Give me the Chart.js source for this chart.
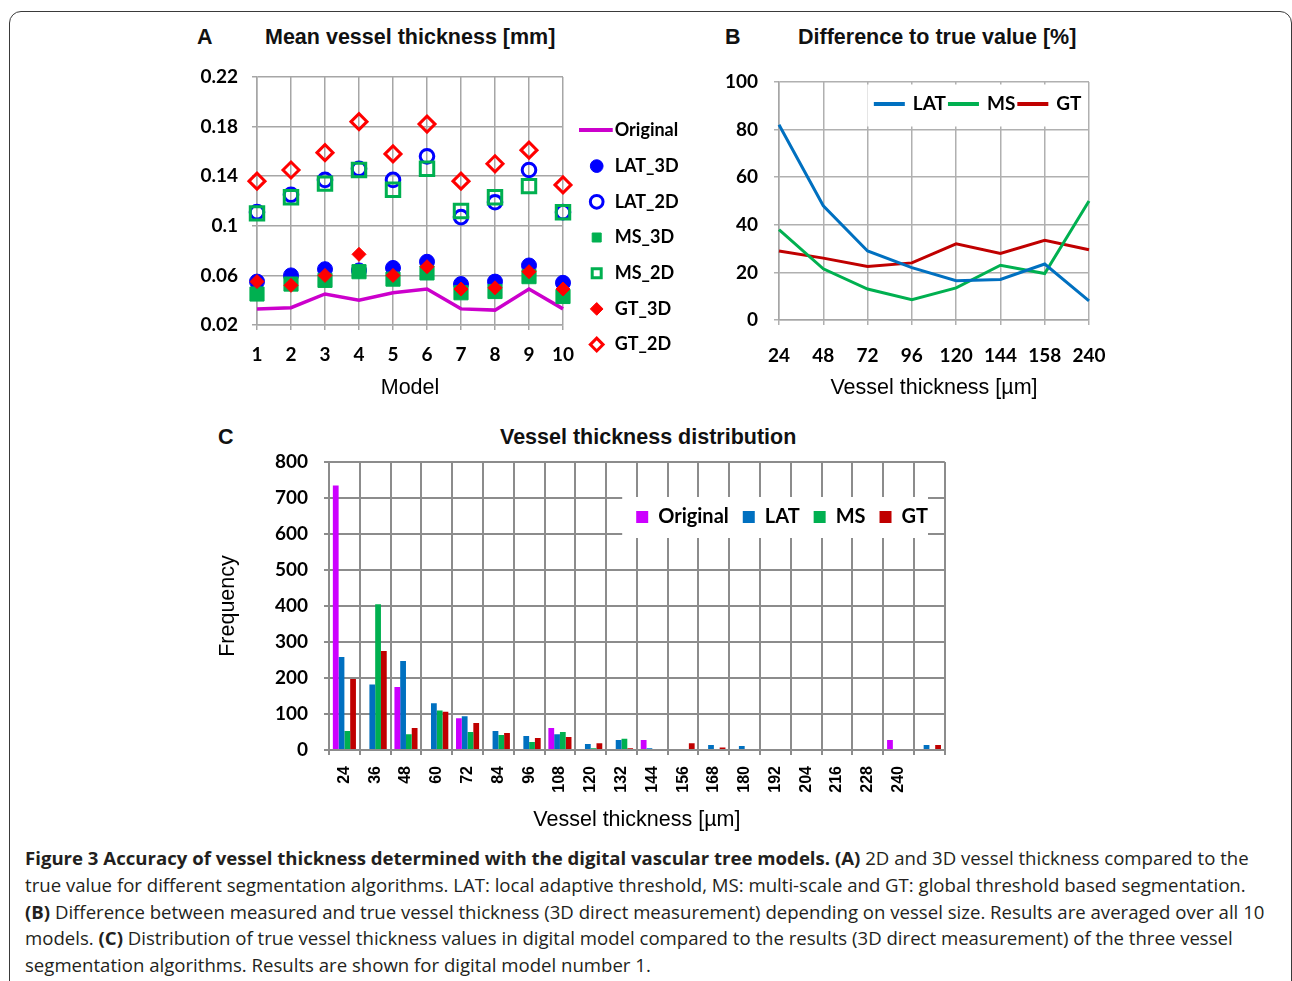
<!DOCTYPE html>
<html>
<head>
<meta charset="utf-8">
<script src="https://cdn.jsdelivr.net/npm/chart.js@4.4.1/dist/chart.umd.min.js"></script>
<style>
  body { margin: 0; width: 1292px; height: 981px; position: relative; overflow: hidden; background: #fff; font-family: 'Liberation Sans', Arial, sans-serif; }
  .frame { position: absolute; left: 9px; top: 11px; width: 1283px; height: 1000px; border: 1.5px solid #3a3a3a; border-radius: 12px; box-sizing: border-box; }
  .box { position: absolute; }
  .t { position: absolute; font: bold 21.5px 'Liberation Sans', Arial, sans-serif; line-height: 26px; color: #111; white-space: nowrap; }
  .cap { position: absolute; left: 25px; top: 845px; font: 18.6px 'Open Sans', sans-serif; line-height: 26.75px; color: #231f20; white-space: nowrap; }
  .cap b { font-weight: 700; }
</style>
</head>
<body>
<div class="frame"></div>

<div class="t" style="left:197px;top:24px">A</div>
<div class="t" style="left:265px;top:24px">Mean vessel thickness [mm]</div>
<div class="t" style="left:725px;top:24px">B</div>
<div class="t" style="left:798px;top:24px">Difference to true value [%]</div>
<div class="t" style="left:218px;top:424px">C</div>
<div class="t" style="left:500px;top:424px">Vessel thickness distribution</div>

<div class="box" style="left:190px;top:60px;width:510px;height:360px"><canvas id="chartA"></canvas></div>
<div class="box" style="left:710px;top:60px;width:420px;height:360px"><canvas id="chartB"></canvas></div>
<div class="box" style="left:200px;top:420px;width:760px;height:420px"><canvas id="chartC"></canvas></div>

<div class="cap">
  <div><b>Figure 3 Accuracy of vessel thickness determined with the digital vascular tree models.</b> <b>(A)</b> 2D and 3D vessel thickness compared to the</div>
  <div>true value for different segmentation algorithms. LAT: local adaptive threshold, MS: multi-scale and GT: global threshold based segmentation.</div>
  <div><b>(B)</b> Difference between measured and true vessel thickness (3D direct measurement) depending on vessel size. Results are averaged over all 10</div>
  <div>models. <b>(C)</b> Distribution of true vessel thickness values in digital model compared to the results (3D direct measurement) of the three vessel</div>
  <div>segmentation algorithms. Results are shown for digital model number 1.</div>
</div>

<script>
// --- A: mean vessel thickness per model [mm]
const modelLabels = ['1', '2', '3', '4', '5', '6', '7', '8', '9', '10'];
const yTicksA = ['0.02', '0.06', '0.1', '0.14', '0.18', '0.22'];
const originalA = [0.033, 0.034, 0.045, 0.040, 0.046, 0.049, 0.033, 0.032, 0.049, 0.033];
const lat3D = [0.055, 0.060, 0.065, 0.064, 0.066, 0.071, 0.053, 0.055, 0.068, 0.054];
const lat2D = [0.111, 0.125, 0.137, 0.146, 0.137, 0.156, 0.107, 0.119, 0.145, 0.111];
const ms3D = [0.045, 0.053, 0.056, 0.063, 0.057, 0.062, 0.046, 0.047, 0.059, 0.043];
const ms2D = [0.110, 0.123, 0.134, 0.145, 0.129, 0.146, 0.112, 0.123, 0.132, 0.111];
const gt3D = [0.055, 0.052, 0.060, 0.077, 0.060, 0.067, 0.049, 0.050, 0.063, 0.049];
const gt2D = [0.136, 0.145, 0.159, 0.184, 0.158, 0.182, 0.136, 0.150, 0.161, 0.133];

// --- B: difference to true value [%]
const diffLabels = ['24', '48', '72', '96', '120', '144', '158', '240'];
const latDiff = [82, 48, 29, 22, 16.5, 17, 23.5, 8];
const msDiff = [38, 21.5, 13, 8.5, 13.5, 23, 19.5, 50];
const gtDiff = [29, 26, 22.5, 24, 32, 28, 33.5, 29.5];

// --- C: vessel thickness distribution (model 1)
const binLabels = ['24', '36', '48', '60', '72', '84', '96', '108', '120', '132', '144', '156', '168', '180', '192', '204', '216', '228', '240', ''];
const origFreq = [735, 0, 175, 0, 88, 0, 0, 61, 0, 0, 28, 0, 0, 0, 0, 0, 0, 0, 28, 0];
const latFreq = [258, 182, 247, 130, 94, 53, 39, 44, 17, 28, 5, 3, 14, 11, 0, 0, 0, 0, 0, 14];
const msFreq = [53, 405, 44, 110, 50, 42, 22, 50, 5, 31, 0, 0, 0, 0, 0, 0, 0, 0, 0, 0];
const gtFreq = [197, 275, 61, 106, 75, 47, 33, 36, 19, 5, 0, 19, 7, 0, 0, 0, 0, 0, 0, 14];

Chart.defaults.animation = false;
Chart.defaults.color = '#000';
Chart.defaults.font.family = 'Lato';

const tickFont = { family: 'Lato', size: 19, weight: 'bold' };
const axisTitleFont = { family: 'Liberation Sans', size: 21.5 };

// fixed axis box sizes so the plot areas land where the original has them
const fixY = w => s => { s.width = w; s.paddingTop = 0; s.paddingBottom = 0; };
const fixX = h => s => { s.height = h; };

// moves the legend where the original has it, optionally with a white box behind
const legendShift = {
    id: 'legendShift',
    afterLayout(chart, args, o) {
        const lg = chart.legend;
        lg.left += o.dx || 0; lg.right += o.dx || 0;
        lg.top += o.dy || 0; lg.bottom += o.dy || 0;
        if (o.w) { lg.right = lg.left + o.w; lg.width = o.w; }
        if (o.h) { lg.bottom = lg.top + o.h; lg.height = o.h; }
    },
    beforeDatasetsDraw(chart, args, o) {
        if (!o.fill) return;
        const hb = chart.legend.legendHitBoxes;
        const x1 = Math.min(...hb.map(b => b.left)) - o.padL;
        const x2 = Math.max(...hb.map(b => b.left + b.width)) + o.padR;
        const y1 = Math.min(...hb.map(b => b.top)) - o.padT;
        const y2 = Math.max(...hb.map(b => b.top + b.height)) + o.padB;
        const ctx = chart.ctx;
        ctx.save();
        ctx.fillStyle = '#fff';
        ctx.fillRect(x1, y1, x2 - x1, y2 - y1);
        ctx.restore();
        chart.legend.draw();
    }
};

// long magenta stroke for the "Original" legend entry
const lineIcon = document.createElement('canvas');
lineIcon.width = 36; lineIcon.height = 4;
const li = lineIcon.getContext('2d');
li.fillStyle = '#CC00CC';
li.fillRect(0, 0, 34, 4);

const clear = 'rgba(0,0,0,0)';
const byIndex = (a, b) => a.datasetIndex - b.datasetIndex;

new Chart(document.getElementById('chartA'), {
    type: 'line',
    data: {
        labels: modelLabels,
        datasets: [
            { label: 'Original', data: originalA, borderColor: '#CC00CC', backgroundColor: '#CC00CC', borderWidth: 3.5, pointRadius: 0, pointStyle: lineIcon, order: 10, clip: false },
            { label: 'LAT_3D', data: lat3D, showLine: false, pointStyle: 'circle', pointRadius: 7.5, pointBackgroundColor: '#0000FF', pointBorderColor: '#0000FF', pointBorderWidth: 1, order: 3, clip: false },
            { label: 'LAT_2D', data: lat2D, showLine: false, pointStyle: 'circle', pointRadius: 6.8, pointBackgroundColor: clear, pointBorderColor: '#0000FF', pointBorderWidth: 3, order: 3, clip: false },
            { label: 'MS_3D', data: ms3D, showLine: false, pointStyle: 'rect', pointRadius: 10, pointBackgroundColor: '#00B050', pointBorderColor: '#00B050', pointBorderWidth: 1, order: 2, clip: false },
            { label: 'MS_2D', data: ms2D, showLine: false, pointStyle: 'rect', pointRadius: 9.5, pointBackgroundColor: clear, pointBorderColor: '#00B050', pointBorderWidth: 3, order: 2, clip: false },
            { label: 'GT_3D', data: gt3D, showLine: false, pointStyle: 'rectRot', pointRadius: 7, pointBackgroundColor: '#FF0000', pointBorderColor: '#FF0000', pointBorderWidth: 1, order: 1, clip: false },
            { label: 'GT_2D', data: gt2D, showLine: false, pointStyle: 'rectRot', pointRadius: 8, pointBackgroundColor: clear, pointBorderColor: '#FF0000', pointBorderWidth: 3, order: 1, clip: false }
        ]
    },
    options: {
        responsive: true,
        maintainAspectRatio: false,
        layout: { padding: { top: 17, right: 127, left: 0, bottom: 0 } },
        plugins: {
            tooltip: { enabled: false },
            legend: {
                position: 'right',
                maxWidth: 10,
                labels: { usePointStyle: true, boxHeight: 9, padding: 17.7, font: { family: 'Lato', size: 18, weight: 'bold' }, sort: byIndex }
            },
            legendShift: { dx: 7, dy: -11, w: 140 }
        },
        scales: {
            x: {
                grid: { color: '#a6a6a6', lineWidth: 1.5, tickLength: 5 },
                border: { color: '#a6a6a6', width: 1.5 },
                ticks: { font: tickFont, padding: 13, maxRotation: 0 },
                title: { display: true, text: 'Model', font: axisTitleFont, padding: { top: 0, bottom: 19 } },
                afterFit: fixX(95)
            },
            y: {
                min: 0.02, max: 0.22,
                grid: { color: '#a6a6a6', lineWidth: 1.5, tickLength: 5 },
                border: { color: '#a6a6a6', width: 1.5 },
                ticks: { stepSize: 0.04, font: tickFont, padding: 14, callback: (v, i) => yTicksA[i] },
                afterFit: fixY(67)
            }
        }
    },
    plugins: [legendShift]
});

new Chart(document.getElementById('chartB'), {
    type: 'line',
    data: {
        labels: diffLabels,
        datasets: [
            { label: 'LAT', data: latDiff, borderColor: '#0070C0', backgroundColor: '#0070C0', borderWidth: 3, pointRadius: 0, tension: 0, clip: false },
            { label: 'MS', data: msDiff, borderColor: '#00B050', backgroundColor: '#00B050', borderWidth: 3, pointRadius: 0, tension: 0, clip: false },
            { label: 'GT', data: gtDiff, borderColor: '#C00000', backgroundColor: '#C00000', borderWidth: 3, pointRadius: 0, tension: 0, clip: false }
        ]
    },
    options: {
        responsive: true,
        maintainAspectRatio: false,
        layout: { padding: { top: 21, right: 41, left: 0, bottom: 0 } },
        plugins: {
            tooltip: { enabled: false },
            legend: {
                position: 'top',
                align: 'end',
                maxHeight: 1,
                labels: { boxWidth: 28, boxHeight: 1, padding: 3.5, font: { family: 'Lato', size: 19, weight: 'bold' } }
            },
            legendShift: { dx: -4, dy: 10, h: 60, fill: true, padL: 8, padR: 2, padT: 10, padB: 13 }
        },
        scales: {
            x: {
                grid: { color: '#b0b0b0', lineWidth: 1.5, tickLength: 5 },
                border: { color: '#a6a6a6', width: 1.5 },
                ticks: { font: tickFont, padding: 19, maxRotation: 0 },
                title: { display: true, text: 'Vessel thickness [µm]', font: axisTitleFont, padding: { top: 0, bottom: 19 } },
                afterFit: fixX(100)
            },
            y: {
                min: 0, max: 100,
                grid: { color: '#b0b0b0', lineWidth: 1.5, tickLength: 5 },
                border: { color: '#a6a6a6', width: 1.5 },
                ticks: { stepSize: 20, font: tickFont, padding: 16 },
                afterFit: fixY(69)
            }
        }
    },
    plugins: [legendShift]
});

new Chart(document.getElementById('chartC'), {
    type: 'bar',
    data: {
        labels: binLabels,
        datasets: [
            { label: 'Original', data: origFreq, backgroundColor: '#CC00FF' },
            { label: 'LAT', data: latFreq, backgroundColor: '#0070C0' },
            { label: 'MS', data: msFreq, backgroundColor: '#00B050' },
            { label: 'GT', data: gtFreq, backgroundColor: '#C00000' }
        ]
    },
    options: {
        responsive: true,
        maintainAspectRatio: false,
        categoryPercentage: 0.75,
        barPercentage: 1,
        layout: { padding: { top: 41, right: 15, left: 0, bottom: 0 } },
        plugins: {
            tooltip: { enabled: false },
            legend: {
                position: 'top',
                align: 'end',
                maxHeight: 1,
                labels: { boxWidth: 12, boxHeight: 12, padding: 14, font: { family: 'Lato', size: 20, weight: 'bold' } }
            },
            legendShift: { dx: -3, dy: 32, h: 80, fill: true, padL: 14, padR: 0, padT: 10, padB: 11 }
        },
        scales: {
            x: {
                grid: { color: '#8c8c8c', lineWidth: 2, tickLength: 5 },
                border: { color: '#8c8c8c', width: 2 },
                ticks: { font: { family: 'Liberation Sans', size: 16, weight: 'bold' }, padding: 11, minRotation: 90, maxRotation: 90, autoSkip: false },
                title: { display: true, text: 'Vessel thickness [µm]', font: axisTitleFont, padding: { top: 0, bottom: 7 } },
                afterFit: fixX(90)
            },
            y: {
                min: 0, max: 800,
                grid: { color: '#8c8c8c', lineWidth: 2, tickLength: 5 },
                border: { color: '#8c8c8c', width: 2 },
                ticks: { stepSize: 100, font: tickFont, padding: 16 },
                title: { display: true, text: 'Frequency', font: axisTitleFont, padding: { top: 15, bottom: 0 } },
                afterFit: fixY(129)
            }
        }
    },
    plugins: [legendShift]
});
</script>
</body>
</html>
